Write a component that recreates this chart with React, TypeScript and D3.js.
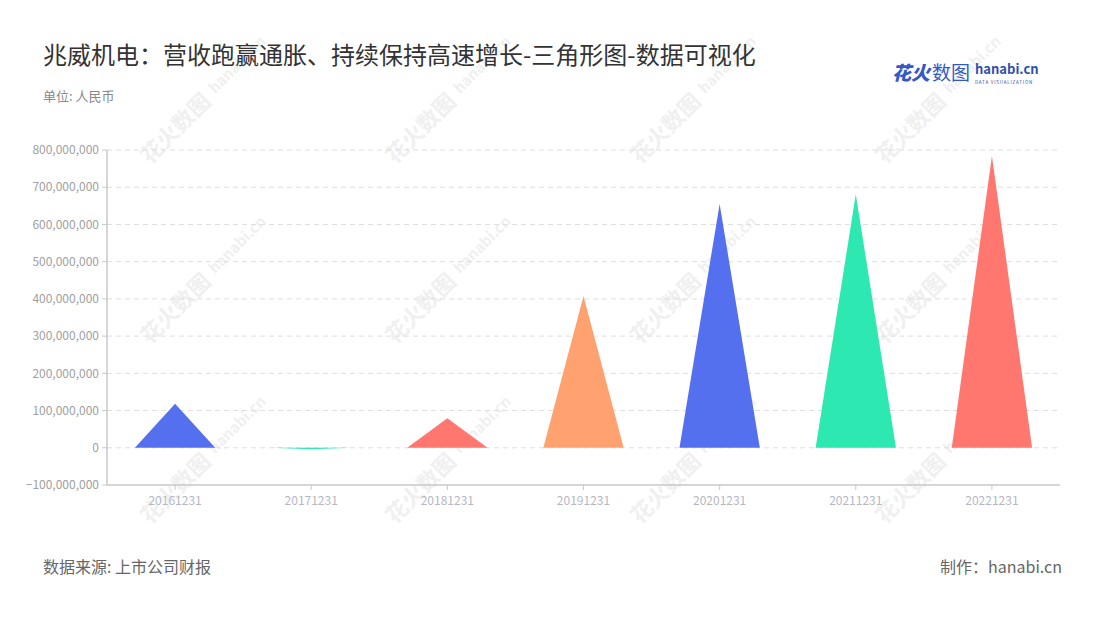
import React from "react";
import * as d3 from "d3";

const categories = ["20161231", "20171231", "20181231", "20191231", "20201231", "20211231", "20221231"];
const values = [118000000, -4000000, 79000000, 408000000, 655000000, 681000000, 784000000];
const colors = ["#5470ef", "#2ee8b1", "#ff776f", "#ffa26f", "#5470ef", "#2ee8b1", "#ff776f"];
const yTicks = [-100000000, 0, 100000000, 200000000, 300000000, 400000000, 500000000, 600000000, 700000000, 800000000];

const W = 1100, H = 620;
const left = 107, right = 1060, top = 150, bottom = 485;
const font = "'Noto Sans CJK SC', 'Noto Sans', sans-serif";

export default function App() {
  const x = d3.scaleBand<string>().domain(categories).range([left, right]);
  const y = d3.scaleLinear().domain([-100000000, 800000000]).range([bottom, top]);
  const fmt = d3.format(",");
  const bw = x.bandwidth() * 0.59;

  const wmX = [150, 395, 640, 885];
  const wmY = [165, 345, 525];

  return (
    <svg width={W} height={H} style={{ position: "absolute", left: 0, top: 0, fontFamily: font }}>
      <rect width={W} height={H} fill="#fff" />
      {/* watermarks */}
      {wmY.map((wy) =>
        wmX.map((wx) => (
          <g key={`${wx}-${wy}`} transform={`translate(${wx},${wy}) rotate(-45)`}>
            <text x={0} y={0} fontSize={22} fontWeight={700} fill="#f0f0f0">花火数图</text>
            <text x={96} y={-4} fontSize={15} fontWeight={700} fill="#f0f0f0">hanabi.cn</text>
          </g>
        ))
      )}
      {/* title */}
      <text x={43} y={64} fontSize={24} fill="#333">兆威机电：营收跑赢通胀、持续保持高速增长-三角形图-数据可视化</text>
      <text x={43} y={101} fontSize={13} fill="#888">单位: 人民币</text>
      {/* logo */}
      <text x={892} y={80} fontSize={19} fontWeight={900} fill="#3458c8" fontStyle="italic">花火</text>
      <text x={932} y={80} fontSize={19} fill="#3458c8">数图</text>
      <text x={975} y={74} fontSize={13} fontWeight={700} fill="#2f4fb0">hanabi.cn</text>
      <text x={975} y={84} fontSize={4.5} fill="#2f4fb0" letterSpacing={0.8}>DATA VISUALIZATION</text>
      {/* grid */}
      {yTicks.filter((t) => t !== -100000000).map((t) => (
        <line key={t} x1={left} x2={right} y1={y(t)} y2={y(t)} stroke="#dedede" strokeDasharray="5,4" />
      ))}
      {/* y axis */}
      <line x1={left} x2={left} y1={top} y2={bottom} stroke="#c8c8c8" strokeWidth={1.5} />
      {yTicks.map((t) => (
        <g key={t}>
          <line x1={left - 5} x2={left} y1={y(t)} y2={y(t)} stroke="#c8c8c8" />
          <text x={left - 8} y={y(t)} dy="0.35em" textAnchor="end" fontSize={12} fill="#a0a0a0">{fmt(t)}</text>
        </g>
      ))}
      {/* x axis */}
      <line x1={left} x2={right} y1={bottom} y2={bottom} stroke="#c8c8c8" strokeWidth={1.5} />
      {categories.map((c) => {
        const cx = (x(c) as number) + x.bandwidth() / 2;
        return (
          <g key={c}>
            <line x1={cx} x2={cx} y1={bottom} y2={bottom + 5} stroke="#c8c8c8" />
            <text x={cx} y={bottom + 20} textAnchor="middle" fontSize={12} fill="#b4b8c4">{c}</text>
          </g>
        );
      })}
      {/* triangles */}
      {categories.map((c, i) => {
        const cx = (x(c) as number) + x.bandwidth() / 2;
        const y0 = y(0);
        const y1 = y(values[i]);
        const p = d3.path();
        p.moveTo(cx - bw / 2, y0);
        p.lineTo(cx, y1);
        p.lineTo(cx + bw / 2, y0);
        p.closePath();
        return <path key={c} d={p.toString()} fill={colors[i]} />;
      })}
      {/* footer */}
      <text x={43} y={573} fontSize={16} fill="#666">数据来源: 上市公司财报</text>
      <text x={1062} y={573} fontSize={16} fill="#666" textAnchor="end">制作：hanabi.cn</text>
    </svg>
  );
}
